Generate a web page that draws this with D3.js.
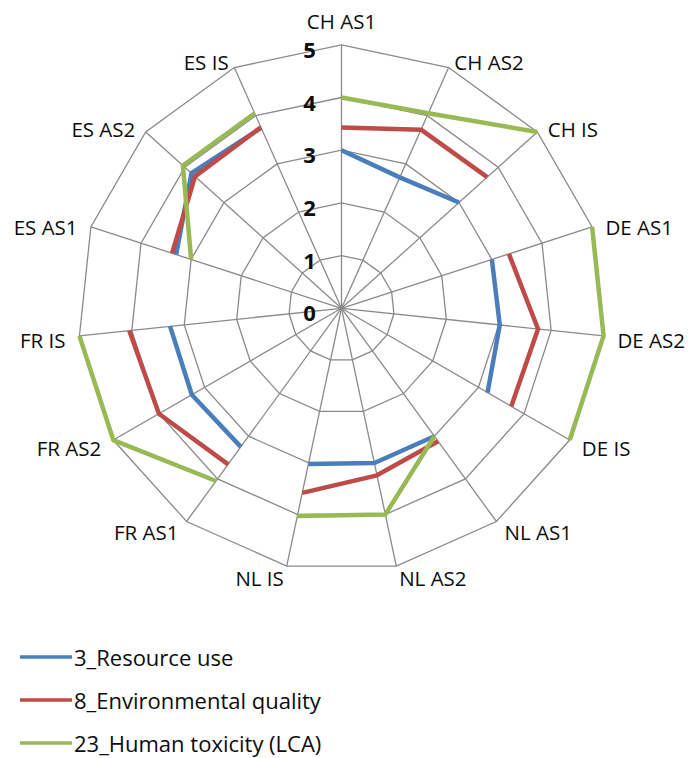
<!DOCTYPE html>
<html>
<head>
<meta charset="utf-8">
<script src="https://cdn.jsdelivr.net/npm/d3@7/dist/d3.min.js"></script>
<style>
  html, body { margin: 0; padding: 0; background: #ffffff; }
  svg { display: block; }
  text { font-family: "Open Sans", "Lato", "Liberation Sans", sans-serif; fill: #0d0d0d; }
</style>
</head>
<body>
<svg id="chart" width="698" height="758"></svg>
<script>
// ---- data ----
const categories = ["CH AS1","CH AS2","CH IS","DE AS1","DE AS2","DE IS","NL AS1","NL AS2","NL IS","FR AS1","FR AS2","FR IS","ES AS1","ES AS2","ES IS"];
const resourceUse = [3.0, 2.72, 3.0, 3.0, 3.02, 3.2, 3.0, 3.0, 3.02, 3.25, 3.28, 3.27, 3.3, 3.83, 3.75];
const environmentalQuality = [3.43, 3.71, 3.72, 3.34, 3.75, 3.72, 3.12, 3.24, 3.58, 3.66, 4.0, 4.05, 3.38, 3.74, 3.76];
const humanToxicity = [4.0, 4.05, 5.0, 5.0, 5.0, 5.0, 3.0, 4.0, 4.03, 4.05, 5.0, 5.0, 3.0, 4.05, 4.05];
const seriesNames = ["3_Resource use", "8_Environmental quality", "23_Human toxicity (LCA)"];
const seriesColors = ["#4a7ebb", "#be4b48", "#98b954"];
const tickValues = [0, 1, 2, 3, 4, 5];

// ---- layout ----
const svg = d3.select("#chart");
const cx = 341.5, cy = 308.3, R = 263.5;
const n = categories.length;

const angle = d3.scaleLinear().domain([0, n]).range([0, 2 * Math.PI]);
const r = d3.scaleLinear().domain([0, 5]).range([0, R]);

const g = svg.append("g").attr("transform", `translate(${cx},${cy})`);

// grid rings
const ringLine = d3.lineRadial()
  .angle((d, i) => angle(i))
  .radius(d => r(d))
  .curve(d3.curveLinearClosed);

tickValues.filter(t => t > 0).forEach(t => {
  g.append("path")
    .attr("d", ringLine(categories.map(() => t)))
    .attr("fill", "none")
    .attr("stroke", "#8a8a8a")
    .attr("stroke-width", 1.3);
});

// spokes
categories.forEach((c, i) => {
  const a = angle(i);
  g.append("line")
    .attr("x1", 0).attr("y1", 0)
    .attr("x2", r(5) * Math.sin(a))
    .attr("y2", -r(5) * Math.cos(a))
    .attr("stroke", "#8a8a8a")
    .attr("stroke-width", 1.3);
});

// category labels
categories.forEach((c, i) => {
  const a = angle(i);
  const s = Math.sin(a), co = Math.cos(a);
  const vx = r(5) * s, vy = -r(5) * co;
  let x, y, anchor;
  if (Math.abs(s) < 0.1) {
    anchor = "middle"; x = vx; y = vy - 24;
  } else {
    anchor = s > 0 ? "start" : "end";
    x = vx + 14 * s;
    y = vy + 3 - 9 * co;
  }
  g.append("text")
    .attr("x", x).attr("y", y)
    .attr("text-anchor", anchor)
    .attr("dominant-baseline", "central")
    .attr("font-size", 20.5)
    .text(c);
});

// series lines (one polyline per country group)
const seriesData = [resourceUse, environmentalQuality, humanToxicity];
const groups = d3.groups(categories.map((c, i) => i), i => categories[i].split(" ")[0]);

seriesData.forEach((vals, si) => {
  const line = d3.lineRadial()
    .angle(i => angle(i))
    .radius(i => r(vals[i]));
  groups.forEach(([country, idxs]) => {
    g.append("path")
      .attr("d", line(idxs))
      .attr("fill", "none")
      .attr("stroke", seriesColors[si])
      .attr("stroke-width", 4.5)
      .attr("stroke-linejoin", "round")
      .attr("stroke-linecap", "butt");
  });
});

// value tick labels
tickValues.forEach(t => {
  g.append("text")
    .attr("x", -32)
    .attr("y", -r(t) + 4)
    .attr("text-anchor", "middle")
    .attr("dominant-baseline", "central")
    .attr("font-size", 22)
    .attr("font-weight", "bold")
    .text(t);
});

// legend
const legendY = d3.scaleLinear().domain([0, 2]).range([657, 743]);
seriesNames.forEach((name, i) => {
  const y = legendY(i);
  svg.append("line")
    .attr("x1", 20).attr("x2", 72)
    .attr("y1", y).attr("y2", y)
    .attr("stroke", seriesColors[i])
    .attr("stroke-width", 3.5);
  svg.append("text")
    .attr("x", 74).attr("y", y)
    .attr("dominant-baseline", "central")
    .attr("font-size", 22)
    .text(name);
});
</script>
</body>
</html>
